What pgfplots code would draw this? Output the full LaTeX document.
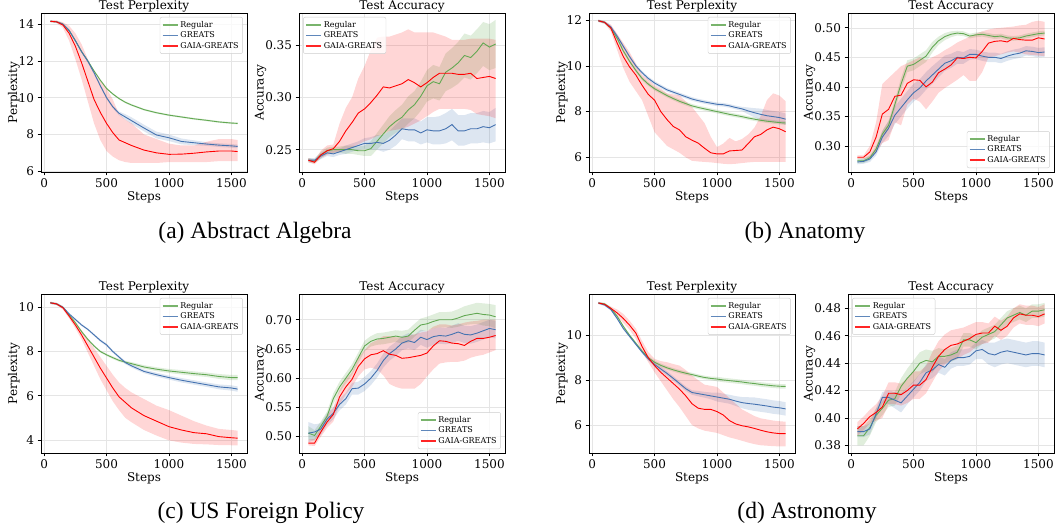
\documentclass[border=0pt]{standalone}
\usepackage{pgfplots}
\pgfplotsset{compat=1.18}
\usepackage{pgfplotstable}
\usepgfplotslibrary{fillbetween}
\usepackage{fontspec}
\setmainfont{DejaVu Serif}
\newfontfamily\capfont{Liberation Serif}

\definecolor{cG}{RGB}{98,168,82}
\definecolor{cB}{RGB}{68,114,176}
\definecolor{cR}{RGB}{255,0,0}

% columns: x, Regular (mean, low, high), GREATS, GAIA-GREATS
\pgfplotstableread{
x gm gl gu bm bl bu rm rl ru
50 14.15 14.10 14.20 14.15 14.10 14.20 14.15 14.10 14.20
100 14.12 14.07 14.17 14.12 14.07 14.17 14.12 14.05 14.20
150 14.00 13.95 14.05 14.00 13.95 14.05 13.95 13.80 14.10
200 13.65 13.60 13.70 13.65 13.60 13.70 13.50 13.10 13.90
250 13.10 13.05 13.15 13.10 13.05 13.15 12.80 12.10 13.50
300 12.50 12.45 12.55 12.50 12.44 12.56 11.90 11.00 12.90
350 12.00 11.95 12.05 11.98 11.90 12.06 10.90 9.80 12.10
400 11.45 11.40 11.50 11.35 11.27 11.43 9.90 8.60 11.30
450 10.95 10.90 11.00 10.65 10.57 10.73 9.20 7.70 10.90
500 10.50 10.45 10.55 10.00 9.92 10.08 8.60 7.10 10.50
550 10.20 10.15 10.25 9.50 9.42 9.58 8.10 6.80 9.90
600 9.95 9.90 10.00 9.15 9.05 9.25 7.70 6.60 9.10
650 9.75 9.70 9.80 8.95 8.80 9.10 7.55 6.50 8.80
700 9.60 9.55 9.65 8.75 8.57 8.93 7.40 6.45 8.60
800 9.35 9.30 9.40 8.35 8.17 8.53 7.15 6.45 8.00
900 9.18 9.13 9.23 7.97 7.79 8.15 7.00 6.45 7.75
1000 9.05 9.00 9.10 7.82 7.64 8.00 6.92 6.50 7.50
1100 8.95 8.90 9.00 7.62 7.46 7.78 6.93 6.50 7.40
1200 8.85 8.80 8.90 7.55 7.42 7.68 6.98 6.50 7.40
1300 8.77 8.72 8.82 7.48 7.38 7.58 7.05 6.50 7.60
1400 8.68 8.63 8.73 7.42 7.32 7.52 7.10 6.55 7.75
1500 8.62 8.57 8.67 7.38 7.28 7.48 7.10 6.55 7.75
1550 8.60 8.55 8.65 7.35 7.25 7.45 7.07 6.55 7.70
}\tAp

\pgfplotstableread{
x gm gl gu bm bl bu rm rl ru
50 0.240 0.238 0.242 0.240 0.238 0.242 0.240 0.238 0.242
100 0.239 0.237 0.241 0.240 0.238 0.242 0.238 0.236 0.240
150 0.245 0.242 0.248 0.244 0.241 0.247 0.245 0.242 0.249
200 0.249 0.246 0.252 0.247 0.244 0.250 0.249 0.245 0.254
250 0.250 0.247 0.253 0.246 0.243 0.249 0.251 0.247 0.255
300 0.250 0.247 0.253 0.248 0.245 0.251 0.258 0.248 0.275
350 0.250 0.246 0.254 0.250 0.246 0.254 0.268 0.250 0.290
400 0.250 0.246 0.254 0.252 0.248 0.256 0.276 0.252 0.300
450 0.249 0.245 0.253 0.254 0.250 0.258 0.285 0.255 0.318
500 0.249 0.244 0.254 0.256 0.251 0.261 0.289 0.258 0.330
550 0.251 0.244 0.258 0.256 0.250 0.262 0.295 0.260 0.345
600 0.258 0.250 0.266 0.257 0.250 0.264 0.302 0.263 0.357
650 0.265 0.256 0.274 0.256 0.248 0.264 0.310 0.265 0.358
700 0.272 0.262 0.282 0.259 0.250 0.268 0.309 0.268 0.358
750 0.277 0.266 0.288 0.264 0.254 0.274 0.311 0.269 0.360
800 0.281 0.269 0.293 0.270 0.260 0.280 0.313 0.270 0.362
850 0.288 0.275 0.301 0.269 0.258 0.280 0.317 0.272 0.365
900 0.293 0.280 0.306 0.269 0.258 0.280 0.314 0.275 0.362
950 0.301 0.287 0.315 0.266 0.255 0.277 0.310 0.278 0.362
1000 0.311 0.296 0.326 0.269 0.257 0.281 0.314 0.282 0.362
1050 0.315 0.299 0.331 0.268 0.255 0.281 0.319 0.286 0.362
1100 0.313 0.297 0.329 0.268 0.255 0.282 0.323 0.289 0.360
1150 0.324 0.306 0.342 0.270 0.256 0.285 0.323 0.289 0.358
1200 0.328 0.309 0.347 0.274 0.259 0.289 0.323 0.289 0.355
1250 0.333 0.313 0.353 0.268 0.254 0.283 0.322 0.289 0.355
1300 0.340 0.319 0.361 0.268 0.254 0.283 0.322 0.289 0.355
1350 0.338 0.317 0.359 0.270 0.256 0.285 0.323 0.288 0.356
1400 0.344 0.323 0.365 0.270 0.256 0.285 0.318 0.284 0.356
1450 0.352 0.330 0.372 0.272 0.257 0.287 0.319 0.283 0.356
1500 0.348 0.326 0.370 0.271 0.256 0.286 0.320 0.282 0.356
1550 0.351 0.328 0.374 0.274 0.258 0.290 0.318 0.280 0.355
}\tAa

\pgfplotstableread{
x gm gl gu bm bl bu rm rl ru
50 11.97 11.92 12.02 11.97 11.92 12.02 11.97 11.92 12.02
100 11.90 11.84 11.96 11.90 11.84 11.96 11.90 11.85 11.95
150 11.65 11.58 11.72 11.70 11.63 11.77 11.65 11.50 11.80
200 11.20 11.12 11.28 11.30 11.22 11.38 11.00 10.70 11.40
250 10.65 10.57 10.73 10.85 10.77 10.93 10.40 9.90 11.00
300 10.20 10.12 10.28 10.40 10.32 10.48 9.95 9.30 10.60
350 9.80 9.72 9.88 10.00 9.92 10.08 9.60 8.90 10.10
400 9.45 9.37 9.53 9.70 9.62 9.78 9.15 8.50 9.60
450 9.20 9.12 9.28 9.45 9.37 9.53 8.75 7.80 9.40
500 9.00 8.92 9.08 9.25 9.17 9.33 8.50 7.10 9.15
550 8.85 8.77 8.93 9.10 9.02 9.18 8.00 6.80 9.00
600 8.70 8.62 8.78 8.95 8.87 9.03 7.65 6.50 8.80
650 8.57 8.49 8.65 8.85 8.77 8.93 7.35 6.35 8.75
700 8.45 8.37 8.53 8.75 8.67 8.83 7.20 6.20 8.70
750 8.35 8.27 8.43 8.65 8.57 8.73 6.90 6.00 8.45
800 8.25 8.17 8.33 8.55 8.47 8.63 6.75 5.85 8.20
850 8.18 8.10 8.26 8.48 8.40 8.56 6.62 5.82 7.85
900 8.12 8.04 8.20 8.42 8.34 8.50 6.40 5.80 7.50
950 8.06 7.98 8.14 8.37 8.29 8.45 6.20 5.78 6.90
1000 8.00 7.92 8.08 8.32 8.24 8.40 6.15 5.75 6.45
1050 7.94 7.86 8.02 8.30 8.22 8.38 6.15 5.72 6.60
1100 7.88 7.80 7.96 8.25 8.17 8.33 6.28 5.70 6.85
1150 7.83 7.75 7.91 8.18 8.10 8.26 6.30 5.72 6.70
1200 7.78 7.70 7.86 8.12 8.03 8.21 6.32 5.75 6.80
1250 7.72 7.64 7.80 8.03 7.88 8.18 6.60 5.78 7.00
1300 7.67 7.59 7.75 7.95 7.75 8.15 6.90 5.80 7.30
1350 7.62 7.54 7.70 7.88 7.63 8.13 7.00 5.80 7.80
1400 7.58 7.50 7.66 7.82 7.57 8.07 7.20 5.80 8.50
1450 7.55 7.47 7.63 7.78 7.53 8.03 7.32 5.80 8.80
1500 7.52 7.44 7.60 7.74 7.49 7.99 7.25 5.80 8.70
1550 7.50 7.42 7.58 7.67 7.42 7.92 7.12 5.80 8.45
}\tBp

\pgfplotstableread{
x gm gl gu bm bl bu rm rl ru
50 0.275 0.271 0.279 0.273 0.269 0.277 0.281 0.278 0.284
100 0.275 0.271 0.279 0.274 0.270 0.278 0.281 0.278 0.284
150 0.280 0.276 0.284 0.278 0.273 0.283 0.290 0.280 0.300
200 0.295 0.290 0.300 0.290 0.284 0.296 0.315 0.290 0.340
250 0.320 0.314 0.326 0.315 0.305 0.325 0.354 0.305 0.405
300 0.335 0.328 0.342 0.330 0.317 0.343 0.362 0.310 0.415
350 0.370 0.362 0.378 0.352 0.337 0.367 0.384 0.340 0.425
400 0.405 0.395 0.415 0.365 0.350 0.380 0.386 0.335 0.435
450 0.435 0.425 0.445 0.378 0.363 0.393 0.406 0.370 0.440
500 0.438 0.428 0.448 0.390 0.375 0.405 0.412 0.380 0.445
550 0.445 0.435 0.455 0.398 0.383 0.413 0.411 0.375 0.450
600 0.452 0.442 0.462 0.410 0.395 0.425 0.400 0.362 0.445
650 0.467 0.458 0.476 0.420 0.405 0.435 0.408 0.375 0.450
700 0.478 0.471 0.485 0.430 0.416 0.444 0.424 0.390 0.455
750 0.485 0.479 0.491 0.440 0.427 0.453 0.430 0.398 0.462
800 0.489 0.484 0.494 0.444 0.432 0.456 0.437 0.405 0.468
850 0.491 0.487 0.495 0.450 0.439 0.461 0.449 0.412 0.475
900 0.490 0.486 0.494 0.449 0.439 0.459 0.448 0.420 0.480
950 0.486 0.482 0.490 0.455 0.446 0.464 0.450 0.410 0.485
1000 0.488 0.484 0.492 0.455 0.447 0.463 0.449 0.410 0.490
1050 0.489 0.485 0.493 0.452 0.444 0.460 0.460 0.425 0.494
1100 0.487 0.483 0.491 0.450 0.442 0.458 0.474 0.450 0.497
1150 0.485 0.481 0.489 0.450 0.442 0.458 0.477 0.452 0.499
1200 0.486 0.482 0.490 0.448 0.440 0.456 0.478 0.455 0.500
1250 0.483 0.479 0.487 0.452 0.444 0.460 0.476 0.458 0.501
1300 0.482 0.478 0.486 0.455 0.447 0.463 0.482 0.460 0.502
1350 0.483 0.479 0.487 0.457 0.449 0.465 0.480 0.458 0.504
1400 0.486 0.482 0.490 0.461 0.453 0.469 0.479 0.455 0.505
1450 0.488 0.484 0.492 0.460 0.452 0.468 0.479 0.454 0.510
1500 0.490 0.486 0.494 0.458 0.450 0.466 0.483 0.453 0.512
1550 0.491 0.487 0.495 0.459 0.451 0.467 0.481 0.452 0.510
}\tBa

\pgfplotstableread{
x gm gl gu bm bl bu rm rl ru
50 10.20 10.15 10.25 10.20 10.15 10.25 10.20 10.15 10.25
100 10.15 10.10 10.20 10.15 10.10 10.20 10.15 10.10 10.20
150 10.00 9.95 10.05 10.00 9.95 10.05 9.98 9.90 10.05
200 9.65 9.60 9.70 9.70 9.65 9.75 9.60 9.50 9.70
250 9.30 9.25 9.35 9.45 9.40 9.50 9.20 9.05 9.35
300 8.90 8.85 8.95 9.20 9.15 9.25 8.75 8.55 8.95
350 8.55 8.50 8.60 9.00 8.95 9.05 8.25 7.95 8.55
400 8.25 8.20 8.30 8.75 8.70 8.80 7.75 7.35 8.15
450 8.00 7.95 8.05 8.50 8.44 8.56 7.25 6.75 7.75
500 7.85 7.80 7.90 8.30 8.24 8.36 6.80 6.25 7.35
550 7.72 7.66 7.78 8.00 7.94 8.06 6.35 5.75 6.95
600 7.60 7.54 7.66 7.75 7.69 7.81 5.95 5.35 6.60
650 7.52 7.46 7.58 7.50 7.43 7.57 5.70 5.00 6.35
700 7.45 7.38 7.52 7.35 7.27 7.43 5.45 4.80 6.15
800 7.30 7.22 7.38 7.10 7.02 7.18 5.10 4.45 5.85
900 7.20 7.11 7.29 6.95 6.86 7.04 4.85 4.20 5.55
1000 7.12 7.03 7.21 6.82 6.73 6.91 4.60 3.98 5.35
1100 7.06 6.96 7.16 6.70 6.60 6.80 4.45 3.88 5.10
1200 7.00 6.90 7.10 6.60 6.50 6.70 4.33 3.82 4.85
1300 6.95 6.85 7.05 6.50 6.40 6.60 4.28 3.80 4.65
1400 6.87 6.76 6.98 6.40 6.29 6.51 4.15 3.77 4.50
1500 6.82 6.70 6.94 6.35 6.23 6.47 4.10 3.76 4.45
1550 6.82 6.70 6.94 6.30 6.18 6.42 4.08 3.75 4.42
}\tCp

\pgfplotstableread{
x gm gl gu bm bl bu rm rl ru
50 0.506 0.495 0.518 0.506 0.490 0.525 0.489 0.485 0.495
100 0.502 0.493 0.511 0.508 0.495 0.521 0.489 0.484 0.496
150 0.518 0.510 0.526 0.513 0.503 0.523 0.508 0.500 0.516
200 0.535 0.527 0.543 0.530 0.520 0.540 0.525 0.515 0.535
250 0.565 0.556 0.574 0.540 0.530 0.550 0.538 0.526 0.550
300 0.585 0.576 0.594 0.555 0.545 0.565 0.568 0.555 0.580
350 0.600 0.591 0.609 0.565 0.555 0.575 0.585 0.572 0.598
400 0.615 0.606 0.624 0.582 0.572 0.592 0.598 0.585 0.610
450 0.635 0.626 0.644 0.583 0.572 0.594 0.620 0.603 0.635
500 0.655 0.646 0.664 0.590 0.578 0.602 0.633 0.615 0.648
550 0.663 0.654 0.672 0.600 0.588 0.612 0.640 0.618 0.660
600 0.667 0.657 0.677 0.613 0.601 0.625 0.642 0.615 0.665
650 0.668 0.658 0.678 0.630 0.618 0.642 0.647 0.605 0.672
700 0.670 0.660 0.680 0.642 0.630 0.654 0.641 0.590 0.672
750 0.672 0.662 0.682 0.650 0.638 0.662 0.639 0.585 0.670
800 0.670 0.659 0.681 0.660 0.648 0.672 0.634 0.582 0.670
850 0.672 0.661 0.683 0.664 0.651 0.677 0.635 0.582 0.672
900 0.682 0.671 0.693 0.661 0.648 0.674 0.637 0.582 0.675
950 0.691 0.680 0.702 0.670 0.657 0.683 0.639 0.590 0.678
1000 0.693 0.681 0.705 0.666 0.652 0.680 0.643 0.603 0.680
1050 0.697 0.685 0.709 0.671 0.657 0.685 0.655 0.615 0.688
1100 0.700 0.687 0.713 0.673 0.659 0.687 0.664 0.625 0.692
1150 0.700 0.687 0.713 0.672 0.658 0.686 0.663 0.627 0.692
1200 0.700 0.686 0.714 0.675 0.660 0.690 0.660 0.628 0.690
1250 0.703 0.688 0.718 0.679 0.664 0.694 0.659 0.628 0.692
1300 0.707 0.691 0.723 0.675 0.660 0.690 0.656 0.630 0.695
1350 0.709 0.692 0.726 0.674 0.659 0.689 0.663 0.635 0.697
1400 0.711 0.693 0.729 0.677 0.662 0.692 0.668 0.638 0.698
1450 0.709 0.690 0.728 0.681 0.666 0.696 0.668 0.640 0.700
1500 0.708 0.689 0.727 0.685 0.670 0.700 0.670 0.644 0.700
1550 0.705 0.685 0.725 0.683 0.668 0.698 0.673 0.648 0.700
}\tCa

\pgfplotstableread{
x gm gl gu bm bl bu rm rl ru
50 11.44 11.39 11.49 11.44 11.39 11.49 11.44 11.40 11.48
100 11.40 11.35 11.45 11.35 11.30 11.40 11.38 11.33 11.43
150 11.20 11.15 11.25 11.15 11.10 11.20 11.20 11.12 11.28
200 10.85 10.80 10.90 10.75 10.70 10.80 11.00 10.85 11.15
250 10.40 10.35 10.45 10.30 10.25 10.35 10.75 10.55 10.95
300 10.00 9.95 10.05 9.95 9.90 10.00 10.45 10.25 10.65
350 9.65 9.60 9.70 9.60 9.55 9.65 10.10 9.85 10.30
400 9.30 9.25 9.35 9.25 9.20 9.30 9.50 9.25 9.75
450 9.00 8.93 9.07 8.95 8.87 9.03 9.00 8.80 9.25
500 8.80 8.72 8.88 8.70 8.60 8.80 8.65 8.35 8.95
550 8.66 8.58 8.74 8.50 8.40 8.60 8.35 7.95 8.85
600 8.55 8.47 8.63 8.30 8.20 8.40 8.10 7.55 8.80
650 8.46 8.38 8.54 8.08 7.98 8.18 7.85 7.15 8.72
700 8.38 8.30 8.46 7.85 7.75 7.95 7.60 6.80 8.65
750 8.31 8.23 8.39 7.62 7.52 7.72 7.30 6.40 8.45
800 8.25 8.17 8.33 7.45 7.35 7.55 6.95 6.00 8.20
850 8.18 8.10 8.26 7.40 7.28 7.52 6.75 5.85 8.00
900 8.12 8.04 8.20 7.35 7.22 7.48 6.70 5.75 7.80
950 8.08 8.00 8.16 7.30 7.15 7.45 6.70 5.70 7.75
1000 8.05 7.95 8.15 7.25 7.05 7.45 6.60 5.65 7.70
1050 8.01 7.91 8.11 7.20 7.00 7.40 6.45 5.55 7.45
1100 7.98 7.88 8.08 7.15 6.95 7.35 6.20 5.45 7.20
1150 7.95 7.85 8.05 7.07 6.85 7.29 6.05 5.38 6.95
1200 7.92 7.82 8.02 7.00 6.75 7.25 5.97 5.30 6.70
1250 7.88 7.78 7.98 6.96 6.68 7.24 5.92 5.22 6.55
1300 7.85 7.75 7.95 6.93 6.63 7.23 5.85 5.15 6.40
1350 7.81 7.71 7.91 6.89 6.59 7.19 5.77 5.10 6.30
1400 7.78 7.68 7.88 6.85 6.55 7.15 5.70 5.08 6.25
1450 7.75 7.65 7.85 6.80 6.50 7.10 5.65 5.06 6.20
1500 7.73 7.63 7.83 6.77 6.47 7.07 5.62 5.05 6.17
1550 7.72 7.62 7.82 6.72 6.42 7.02 5.62 5.05 6.15
}\tDp

\pgfplotstableread{
x gm gl gu bm bl bu rm rl ru
50 0.387 0.380 0.394 0.390 0.386 0.394 0.392 0.387 0.397
100 0.387 0.380 0.394 0.390 0.386 0.394 0.396 0.391 0.401
150 0.393 0.387 0.399 0.392 0.388 0.396 0.401 0.396 0.406
200 0.402 0.397 0.407 0.403 0.399 0.407 0.404 0.398 0.410
250 0.407 0.402 0.412 0.415 0.411 0.419 0.408 0.400 0.416
300 0.413 0.408 0.418 0.415 0.410 0.420 0.418 0.410 0.426
350 0.414 0.409 0.419 0.413 0.407 0.419 0.418 0.410 0.426
400 0.423 0.417 0.429 0.411 0.404 0.418 0.417 0.409 0.425
450 0.429 0.422 0.436 0.416 0.410 0.422 0.420 0.411 0.429
500 0.434 0.426 0.442 0.421 0.415 0.427 0.424 0.414 0.434
550 0.440 0.432 0.448 0.426 0.420 0.432 0.424 0.414 0.434
600 0.442 0.434 0.450 0.433 0.427 0.439 0.428 0.418 0.438
650 0.441 0.433 0.449 0.435 0.429 0.441 0.437 0.426 0.448
700 0.445 0.439 0.451 0.439 0.433 0.445 0.445 0.434 0.456
750 0.445 0.440 0.450 0.437 0.431 0.443 0.450 0.439 0.461
800 0.446 0.441 0.451 0.442 0.436 0.448 0.453 0.442 0.464
850 0.448 0.443 0.453 0.444 0.438 0.450 0.454 0.443 0.465
900 0.457 0.452 0.462 0.444 0.438 0.450 0.456 0.446 0.466
950 0.457 0.452 0.462 0.445 0.439 0.451 0.458 0.448 0.468
1000 0.455 0.450 0.460 0.449 0.443 0.455 0.461 0.452 0.470
1050 0.459 0.454 0.464 0.450 0.443 0.457 0.462 0.454 0.470
1100 0.461 0.456 0.466 0.447 0.439 0.455 0.462 0.455 0.469
1150 0.463 0.458 0.468 0.446 0.437 0.455 0.467 0.460 0.474
1200 0.468 0.463 0.473 0.448 0.439 0.457 0.464 0.457 0.471
1250 0.473 0.468 0.478 0.449 0.440 0.458 0.467 0.460 0.474
1300 0.475 0.470 0.480 0.448 0.439 0.457 0.473 0.466 0.480
1350 0.477 0.472 0.482 0.447 0.438 0.456 0.476 0.469 0.483
1400 0.475 0.470 0.480 0.446 0.437 0.455 0.475 0.468 0.482
1450 0.478 0.473 0.483 0.447 0.438 0.456 0.475 0.468 0.482
1500 0.478 0.473 0.483 0.447 0.438 0.456 0.474 0.467 0.481
1550 0.479 0.474 0.484 0.446 0.437 0.455 0.476 0.469 0.483
}\tDa

\newcommand{\mfont}{\fontsize{12}{14}\selectfont}

\pgfplotsset{
  panel/.style={
    scale only axis, width=206pt, height=159pt, anchor=south west,
    xmin=-25, xmax=1625, xtick={0,500,1000,1500}, xlabel={Steps},
    tick align=outside, xtick pos=bottom, ytick pos=left,
    major tick length=3.5pt, tick style={black, line width=0.6pt},
    axis line style={line width=0.8pt},
    grid=major, grid style={black!10, line width=0.5pt},
    tick label style={font=\mfont},
    label style={font=\mfont},
    title style={font=\mfont, yshift=-9pt},
    ylabel shift=-8pt, xlabel shift=-3pt,
    /pgf/number format/assume math mode=true,
    /pgf/number format/1000 sep={},
    scaled y ticks=false,
    legend cell align=left,
    legend style={font=\fontsize{8}{9.5}\selectfont, draw=black!20,
      rounded corners=2pt, fill=white, fill opacity=0.8, text opacity=1,
      draw opacity=1, inner sep=2pt, row sep=-1pt},
    legend image code/.code={\draw[##1, line width=1.5pt, opacity=0.85] (0pt,0pt) -- (15pt,0pt);},
    legend style={at={(0.98,0.975)}, anchor=north east},
  },
  pp/.style={panel, ylabel={Perplexity}, title={Test Perplexity}},
  acc/.style={panel, ylabel={Accuracy}, title={Test Accuracy},
    yticklabel style={/pgf/number format/.cd, fixed, fixed zerofill, precision=2}},
  legNW/.style={legend style={at={(0.02,0.975)}, anchor=north west}},
  legSE/.style={legend style={at={(0.98,0.025)}, anchor=south east}},
}

\newcommand{\trio}[1]{%
  \addlegendimage{color=cG}
  \addlegendimage{color=cB}
  \addlegendimage{color=cR}
  \addplot[name path=gl, draw=none, forget plot] table[x=x, y=gl]{#1};
  \addplot[name path=gu, draw=none, forget plot] table[x=x, y=gu]{#1};
  \addplot[fill=cG, fill opacity=0.2, draw=none, forget plot] fill between[of=gl and gu];
  \addplot[name path=bl, draw=none, forget plot] table[x=x, y=bl]{#1};
  \addplot[name path=bu, draw=none, forget plot] table[x=x, y=bu]{#1};
  \addplot[fill=cB, fill opacity=0.18, draw=none, forget plot] fill between[of=bl and bu];
  \addplot[name path=rl, draw=none, forget plot] table[x=x, y=rl]{#1};
  \addplot[name path=ru, draw=none, forget plot] table[x=x, y=ru]{#1};
  \addplot[fill=cR, fill opacity=0.16, draw=none, forget plot] fill between[of=rl and ru];
  \addplot[cG, line width=0.9pt, forget plot] table[x=x, y=gm]{#1};
  \addplot[cB, line width=0.9pt, forget plot] table[x=x, y=bm]{#1};
  \addplot[cR, line width=0.9pt, forget plot] table[x=x, y=rm]{#1};
  \legend{Regular, GREATS, GAIA-GREATS}
}

\begin{document}
\begin{tikzpicture}

% (a) Abstract Algebra
\begin{axis}[pp, at={(41pt,357pt)}, ymin=5.96, ymax=14.6, ytick={6,8,10,12,14}]
\trio{\tAp}
\end{axis}
\begin{axis}[acc, legNW, at={(299pt,357pt)}, ymin=0.2287, ymax=0.3806, ytick={0.25,0.30,0.35}]
\trio{\tAa}
\end{axis}

% (b) Anatomy
\begin{axis}[pp, at={(589pt,357pt)}, ymin=5.36, ymax=12.31, ytick={6,8,10,12}]
\trio{\tBp}
\end{axis}
\begin{axis}[acc, legSE, at={(848pt,357pt)}, ymin=0.256, ymax=0.525, ytick={0.30,0.35,0.40,0.45,0.50}]
\trio{\tBa}
\end{axis}

% (c) US Foreign Policy
\begin{axis}[pp, at={(41pt,76pt)}, ymin=3.41, ymax=10.6, ytick={4,6,8,10}]
\trio{\tCp}
\end{axis}
\begin{axis}[acc, legSE, at={(299pt,76pt)}, ymin=0.472, ymax=0.744, ytick={0.50,0.55,0.60,0.65,0.70}]
\trio{\tCa}
\end{axis}

% (d) Astronomy
\begin{axis}[pp, at={(589pt,76pt)}, ymin=4.755, ymax=11.84, ytick={6,8,10}]
\trio{\tDp}
\end{axis}
\begin{axis}[acc, legNW, at={(848pt,76pt)}, ymin=0.3744, ymax=0.4905, ytick={0.38,0.40,0.42,0.44,0.46,0.48}]
\trio{\tDa}
\end{axis}

\begin{scope}[every node/.style={font=\capfont\fontsize{23.5}{28}\selectfont}]
\node at (255pt,296.5pt) {(a) Abstract Algebra};
\node at (805pt,296.5pt) {(b) Anatomy};
\node at (261pt,16pt) {(c) US Foreign Policy};
\node at (807pt,16pt) {(d) Astronomy};
\end{scope}

\pgfresetboundingbox
\path[use as bounding box] (0,0) rectangle (1056pt,529pt);
\end{tikzpicture}
\end{document}
